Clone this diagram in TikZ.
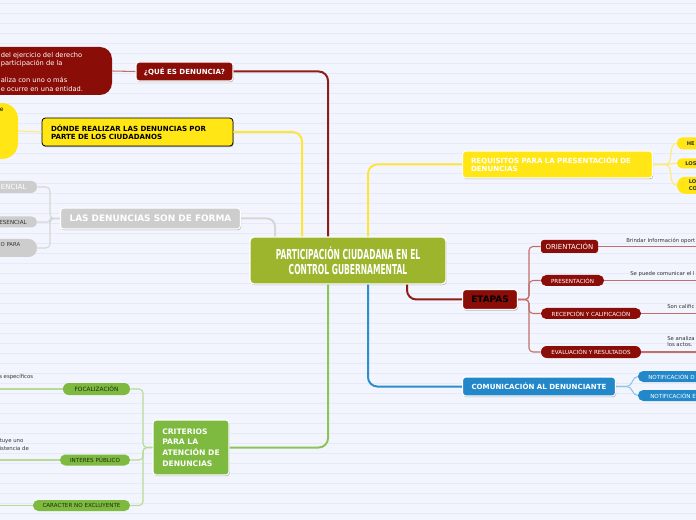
\documentclass[tikz,border=0pt]{standalone}
\usepackage{fontspec}
\setmainfont{DejaVu Sans}
\newfontfamily\titlefont[FakeStretch=0.55]{DejaVu Sans}
\usetikzlibrary{shadows}
\definecolor{bg}{HTML}{F2F5FD}
\definecolor{bgline}{HTML}{E6EAF6}
\definecolor{dred}{HTML}{8B0D08}
\definecolor{dredline}{HTML}{901C17}
\definecolor{lred}{HTML}{C26E6A}
\definecolor{yel}{HTML}{FFE614}
\definecolor{yline}{HTML}{FFE53A}
\definecolor{ylight}{HTML}{FFEB70}
\definecolor{gry}{HTML}{CDCDCD}
\definecolor{gline}{HTML}{D6D6D6}
\definecolor{cgreen}{HTML}{9DB52D}
\definecolor{grn}{HTML}{7DBA3F}
\definecolor{gmain}{HTML}{8CC455}
\definecolor{glight}{HTML}{B9DA97}
\definecolor{blu}{HTML}{2388C9}
\definecolor{bmain}{HTML}{2E8ECB}
\definecolor{blight}{HTML}{8DC4E7}
\definecolor{txt}{HTML}{333333}
\definecolor{txtg}{HTML}{1E2A10}
\newcommand\fsz[2]{\fontsize{#1}{#2}\selectfont}
\begin{document}
\begin{tikzpicture}[x=0.75pt,y=-0.75pt,
  mainbox/.style={draw=white, line width=0.8pt, rounded corners=2.5pt, inner sep=0pt,
    drop shadow={shadow xshift=0.5pt, shadow yshift=-0.9pt, opacity=0.28, fill=black},
    text=white, font=\fsz{5.3}{6.4}\bfseries},
  pill/.style={inner sep=0pt, rounded corners=#1, font=\fsz{4.2}{5.2}},
  note/.style={inner sep=0pt, text=txt, font=\fsz{4}{5.4}, align=left},
  redmain/.style={draw=dredline, line width=1.5pt},
  yelmain/.style={draw=yline, line width=1.5pt},
  grymain/.style={draw=gline, line width=1.5pt},
  grnmain/.style={draw=gmain, line width=1.5pt},
  blumain/.style={draw=bmain, line width=1.5pt},
  redthin/.style={draw=lred, line width=0.8pt},
  yelthin/.style={draw=ylight, line width=0.8pt},
  grythin/.style={draw=gline, line width=0.8pt},
  grnthin/.style={draw=glight, line width=0.8pt},
  bluthin/.style={draw=blight, line width=0.8pt}]
\useasboundingbox (0,0) rectangle (696,520);
\clip (0,0) rectangle (696,520);
\fill[bg] (0,0) rectangle (696,520);
\foreach \yy in {3,13,...,513} \draw[bgline,line width=0.5pt] (0,\yy) -- (696,\yy);

% central
\node[mainbox, fill=cgreen, line width=1pt, rounded corners=3pt, minimum width=147pt, minimum height=35.25pt,
  align=center, font=\titlefont\bfseries\fsz{10.3}{11.25}] (c) at (348,260.5)
  {PARTICIPACIÓN CIUDADANA EN EL\\CONTROL GUBERNAMENTAL};

% que es denuncia
\node[mainbox, fill=dred, minimum width=72.75pt, minimum height=14.25pt] (que) at (184.5,71.5) {¿QUÉ ES DENUNCIA?};
\node[fill=dred, rounded corners=9pt, inner sep=0pt, minimum width=159pt, minimum height=36pt] (queB) at (6,71) {};
\node[note, text=white, font=\fsz{5}{6.4}, anchor=north west] (queT) at (0.5,52)
  {del ejercicio del derecho\\participación de la\\\mbox{}\\aliza con uno o más\\e ocurre en una entidad.};

% donde
\node[mainbox, fill=yel, draw=black, line width=0.6pt, text=black, minimum width=143.25pt, minimum height=21pt,
  text width=129.75pt, align=left, font=\fsz{5.3}{5.9}\bfseries] (donde) at (137.5,132)
  {DÓNDE REALIZAR LAS DENUNCIAS POR\\PARTE DE LOS CIUDADANOS};
\node[fill=yel, rounded corners=12pt, inner sep=0pt, minimum width=87pt, minimum height=42pt] (dondeB) at (-40,131) {};
\node[note, text=black, font=\fsz{4.5}{5.4}, anchor=west] (dondeT) at (-0.5,110) {e};

% forma
\node[mainbox, fill=gry, minimum width=135pt, minimum height=15.75pt, font=\fsz{6.7}{8}\bfseries] (forma) at (150.5,218.5)
  {LAS DENUNCIAS SON DE FORMA};
\node[pill=4.4pt, fill=gry, minimum width=72.75pt, minimum height=9pt] (gp1) at (-11.5,187) {};
\node[pill=4pt, fill=gry, minimum width=72.75pt, minimum height=8.25pt] (gp2) at (-11.5,222) {};
\node[pill=6.5pt, fill=gry, minimum width=72.75pt, minimum height=13.5pt] (gp3) at (-11.5,248) {};
\node[note, text=white, font=\fsz{5.3}{6}, anchor=east] (gp1t) at (26.7,187) {ENCIAL};
\node[note, text=txt, font=\fsz{4.2}{5}, anchor=east] (gp2t) at (27,222) {ESENCIAL};
\node[note, text=txt, font=\fsz{4}{5}, anchor=east] (gp3t) at (20.5,245) {O PARA};

% requisitos
\node[mainbox, fill=yel, minimum width=142.5pt, minimum height=20.25pt, text width=129.75pt, align=left,
  font=\fsz{5.3}{5.9}\bfseries] (req) at (557.5,164.5) {REQUISITOS PARA LA PRESENTACIÓN DE\\DENUNCIAS};
\node[pill=4.4pt, fill=yel, minimum width=45pt, minimum height=9pt] (yp1) at (707,143.3) {};
\node[pill=3.7pt, fill=yel, minimum width=45pt, minimum height=7.5pt] (yp2) at (707,163.3) {};
\node[pill=6.2pt, fill=yel, minimum width=45pt, minimum height=12.75pt] (yp3) at (707,185.3) {};
\node[note, font=\fsz{3.9}{5.4}\bfseries, anchor=west] (yp1t) at (686.5,143.3) {HE};
\node[note, font=\fsz{3.9}{5.4}\bfseries, anchor=west] (yp2t) at (685,163.3) {LOS};
\node[note, font=\fsz{3.9}{5.5}\bfseries, anchor=west] (yp3t) at (688.5,185.3) {LO\\CO};

% etapas
\node[mainbox, fill=dred, text=black, minimum width=41.25pt, minimum height=15pt, font=\fsz{6.7}{8}\bfseries] (eta) at (490,299.5) {ETAPAS};
\node[fill=dred, rounded corners=2pt, inner sep=0pt, minimum width=42.75pt, minimum height=9.75pt, text=white, font=\fsz{5.2}{6}] (ori) at (569.5,246.5) {ORIENTACIÓN};
\node[pill=4pt, fill=dred, minimum width=47.25pt, minimum height=8.25pt, text=white] (pre) at (572.5,280.5) {PRESENTACIÓN};
\node[pill=4pt, fill=dred, minimum width=75pt, minimum height=8.25pt, text=white] (rec) at (591,313.5) {RECEPCIÓN Y CALIFICACIÓN};
\node[pill=4.4pt, fill=dred, minimum width=75pt, minimum height=9pt, text=white] (eva) at (591,352) {EVALUACIÓN Y RESULTADOS};
\coordinate (oriE) at (700,246.5);
\coordinate (preE) at (700,280.5);
\coordinate (recE) at (700,313.5);
\coordinate (evaE) at (700,352);
\node[note, anchor=west] (oriN) at (626,241) {Brindar Información oport};
\node[note, anchor=west] (preN) at (630,274.5) {Se puede comunicar el l};
\node[note, anchor=west] (recN) at (667,307) {Son calific};
\node[note, anchor=west, font=\fsz{4}{5.2}] (evaN) at (667,341.5) {Se analiza\\los actos.};

% comunicacion
\node[mainbox, fill=blu, minimum width=114.75pt, minimum height=14.25pt] (com) at (539,386.5) {COMUNICACIÓN AL DENUNCIANTE};
\node[pill=4pt, fill=blu, minimum width=60pt, minimum height=8.25pt] (bp1) at (678,376.5) {};
\node[pill=4pt, fill=blu, minimum width=60pt, minimum height=8.25pt] (bp2) at (678,395.5) {};
\node[note, text=white, font=\fsz{4.2}{5}, anchor=west] (bp1t) at (648,376.5) {NOTIFICACIÓN D};
\node[note, text=white, font=\fsz{4.2}{5}, anchor=west] (bp2t) at (650,395.5) {NOTIFICACIÓN E};

% criterios
\node[mainbox, fill=grn, minimum width=57pt, minimum height=41.25pt, align=left, font=\fsz{5.7}{8.1}\bfseries] (crit) at (191,447.5)
  {CRITERIOS\\PARA LA\\ATENCIÓN~DE\\DENUNCIAS};
\node[pill=4.4pt, fill=grn, minimum width=50.25pt, minimum height=9pt, text=txtg, font=\fsz{4.4}{5.2}] (foc) at (96.5,389) {FOCALIZACIÓN};
\node[pill=4pt, fill=grn, minimum width=52.5pt, minimum height=8.25pt, text=txtg] (int) at (95,460) {INTERES PÚBLICO};
\node[pill=4pt, fill=grn, minimum width=72.75pt, minimum height=8.25pt, text=txtg] (car) at (81.5,505.5) {CARACTER NO EXCLUYENTE};
\coordinate (focW) at (-5,389);
\coordinate (intW) at (-5,460);
\coordinate (carW) at (-5,505.5);
\node[note, anchor=west] (focN) at (-1,377) {s específicos};
\node[note, anchor=west, font=\fsz{4}{5.8}] (intN) at (-0.5,444.8) {tuye uno\\istencia de};

% main connectors
\draw[redmain, rounded corners=7pt] (que.east) -| ([xshift=-15pt]c.north);
\draw[yelmain, rounded corners=7pt] (donde.east) -| ([xshift=-34.5pt]c.north);
\draw[grymain, rounded corners=6pt] (forma.east) -| ([xshift=-54.75pt]c.north);
\draw[yelmain, rounded corners=7pt] ([xshift=15pt]c.north) |- (req.west);
\draw[redmain, rounded corners=7pt] ([xshift=44.25pt]c.south) |- (eta.west);
\draw[blumain, rounded corners=7pt] ([xshift=15pt]c.south) |- (com.west);
\draw[grnmain, rounded corners=7pt] ([xshift=-15pt]c.south) |- (crit.east);

% thin connectors
\draw[redthin] (que.west) -- (queB.east);
\draw[yelthin] (donde.west) -- (dondeB.east);
\draw[grythin, rounded corners=3pt] (forma.west) -- (50,218.5) |- (gp1.east);
\draw[grythin, rounded corners=2pt] (forma.west) -- (50,218.5) |- (gp2.east);
\draw[grythin, rounded corners=3pt] (forma.west) -- (50,218.5) |- (gp3.east);
\draw[yelthin] (req.east) -- (665,164.5) to[out=0,in=180] (yp1.west);
\draw[yelthin] (req.east) -- (665,164.5) to[out=0,in=180] (yp2.west);
\draw[yelthin] (req.east) -- (665,164.5) to[out=0,in=180] (yp3.west);
\draw[redthin, rounded corners=3pt] (eta.east) -- (529,299.5) |- (ori.west);
\draw[redthin, rounded corners=3pt] (eta.east) -- (529,299.5) |- (pre.west);
\draw[redthin, rounded corners=3pt] (eta.east) -- (529,299.5) |- (rec.west);
\draw[redthin, rounded corners=3pt] (eta.east) -- (529,299.5) |- (eva.west);
\draw[redthin] (ori.east) -- (oriE);
\draw[redthin] (pre.east) -- (preE);
\draw[redthin] (rec.east) -- (recE);
\draw[redthin] (eva.east) -- (evaE);
\draw[bluthin] (com.east) -- (627,386.5) to[out=0,in=180] (bp1.west);
\draw[bluthin] (com.east) -- (627,386.5) to[out=0,in=180] (bp2.west);
\draw[grnthin, rounded corners=3pt] (crit.west) -- (143,447.5) |- (foc.east);
\draw[grnthin, rounded corners=3pt] (crit.west) -- (143,447.5) |- (int.east);
\draw[grnthin, rounded corners=3pt] (crit.west) -- (143,447.5) |- (car.east);
\draw[grnthin] (foc.west) -- (focW);
\draw[grnthin] (int.west) -- (intW);
\draw[grnthin] (car.west) -- (carW);
\end{tikzpicture}
\end{document}
